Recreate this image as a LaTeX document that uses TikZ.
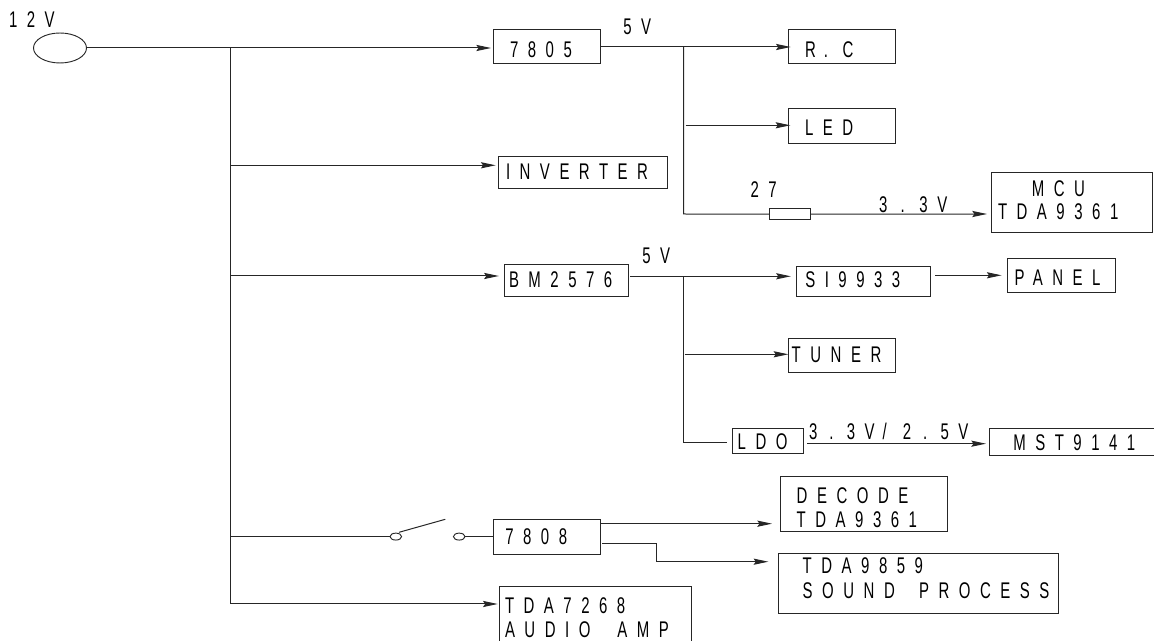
\documentclass[tikz,border=0pt]{standalone}
\usepackage{fontspec}
\setmainfont[FakeStretch=0.66,LetterSpace=42]{Liberation Sans}
\usetikzlibrary{arrows.meta,shapes.geometric}
\tikzset{
  wire/.style={line width=0.75pt,draw=black!85},
  arr/.style={wire,-{Stealth[length=11pt,width=4.6pt,inset=1.6pt]}},
  box/.style={draw=black!85,line width=0.75pt,rectangle,inner sep=0pt,outer sep=0pt},
  oval/.style={draw=black!85,line width=0.7pt,ellipse,inner sep=0pt,outer sep=0pt},
  lbl/.style={inner sep=0pt,outer sep=0pt,anchor=base west},
}
\newcommand\bx[6]{%
  \pgfmathsetmacro\cx{(#2+#4)/2}%
  \pgfmathsetmacro\cy{(#3+#5)/2}%
  \pgfmathsetlengthmacro\bw{(#4-#2)*0.75}%
  \pgfmathsetlengthmacro\bh{(#5-#3)*0.75}%
  \node[box,minimum width=\bw,minimum height=\bh] (#1) at (\cx,\cy) {#6};}
\newcommand\tline[3]{%
  \pgfmathsetlengthmacro\dx{(#1-\cx)*0.75}%
  \pgfmathsetlengthmacro\dy{(\cy-#2)*0.75}%
  \makebox[0pt][l]{\kern\dx\raisebox{\dy}[0pt][0pt]{#3}}}
\begin{document}
\begin{tikzpicture}[x=0.75pt,y=-0.75pt,font=\fontsize{17pt}{20pt}\selectfont]
\clip (0,0) rectangle (1154,641);
% source
\node[oval,minimum width=39.75pt,minimum height=22.5pt] (src) at (60,48) {};
\node[lbl] (l12) at (9,28) {12V};
% boxes
\bx{a7805}{493.3}{30}{600}{64}{\tline{510}{58}{7805}}
\bx{inv}{498.7}{156.3}{667.8}{188.3}{\tline{506}{180}{INVERTER}}
\bx{bm}{504.8}{264.7}{628}{297}{\tline{509}{288}{BM2576}}
\bx{rc}{788.3}{30}{895.8}{64}{\tline{805}{58}{R\kern6pt.\kern11pt C}}
\bx{led}{788.3}{108.7}{895.8}{143.3}{\tline{805}{135.7}{LED}}
\bx{res}{769}{208.3}{810.6}{220}{}
\bx{mcu}{991.5}{172.7}{1152}{232.3}{\tline{1031.8}{196.7}{MCU}\tline{998}{220}{TDA9361}}
\bx{si}{796.8}{266.7}{930}{296.3}{\tline{805.3}{287.3}{SI9933}}
\bx{panel}{1007.8}{258.7}{1115.5}{293}{\tline{1014.5}{286}{PANEL}}
\bx{tuner}{788.3}{338.3}{895.7}{372.3}{\tline{791.7}{362.7}{TUNER}}
\bx{ldo}{732.7}{428.7}{803.7}{453.7}{\tline{737.7}{450}{LDO}}
\bx{mst}{989.3}{428.7}{1157}{456}{\tline{1013.3}{451}{MST9141}}
\bx{decode}{780}{476.3}{947.3}{532}{\tline{796.7}{504}{DECODE}\tline{796.7}{528}{TDA9361}}
\bx{sound}{778.3}{553.7}{1058.7}{613.3}{\tline{802.7}{573.3}{TDA9859}\tline{802.7}{598}{SOUND\kern8pt\ PROCESS}}
\bx{a7808}{493.3}{520}{600.7}{554.3}{\tline{505.3}{544.7}{7808}}
\bx{amp}{499.3}{586.7}{691}{646}{\tline{505}{613.3}{TDA7268}\tline{505}{638}{AUDIO\kern10pt\ AMP}}
% labels
\node[lbl] (v1) at (623.3,35) {5V};
\node[lbl] (v2) at (642.4,263.3) {5V};
\node[lbl] (r27) at (750.5,198) {27};
\node[lbl] (v33) at (879,212.3) {3\kern10pt.\kern11pt 3V};
\node[lbl] (v25) at (809,439.3) {3\kern9pt.\kern10pt 3V\kern6pt/\kern12pt 2\kern9pt.\kern10pt 5V};
% switch contacts
\node[oval,minimum width=8.7pt,minimum height=5.2pt] (c1) at (395.8,536.6) {};
\node[oval,minimum width=8.7pt,minimum height=5.2pt] (c2) at (459.2,536.6) {};
\coordinate (b1) at (399,532.3);
\coordinate (b2) at (445.3,519.3);
% junctions
\coordinate (t0) at (230.8,48);
\coordinate (t1) at (230.8,165.3);
\coordinate (t2) at (230.8,276);
\coordinate (t3) at (230.8,536.6);
\coordinate (t4) at (230.8,604);
\coordinate (p1) at (683.6,47);
\coordinate (p1b) at (685.5,125.3);
\coordinate (p1c) at (683.6,214);
\coordinate (p2) at (683.6,276.3);
\coordinate (p2b) at (684.7,354.3);
\coordinate (p2c) at (683.6,442.7);
\coordinate (ldoin) at (726.7,442.7);
\coordinate (bmout) at (630,276.3);
\coordinate (siout) at (935,275.3);
\coordinate (ldoout) at (807,443.7);
\coordinate (s1) at (600.7,523.7);
\coordinate (s2) at (602.3,543.3);
\coordinate (s3) at (656.2,543.3);
\coordinate (s4) at (656.2,561.7);
% connectors
\draw[arr,shorten >=1.7pt] (src.east |- t0) -- (t0 -| a7805.west);
\draw[wire] (t0) -- (t4);
\draw[arr,shorten >=2.3pt] (t1) -- (t1 -| inv.west);
\draw[arr,shorten >=4.5pt] (t2) -- (t2 -| bm.west);
\draw[wire] (t3) -- (c1.west);
\draw[wire] (b1) -- (b2);
\draw[wire] (c2.east) -- (c2 -| a7808.west);
\draw[arr,shorten >=1.2pt] (t4) -- (t4 -| amp.west);
\draw[arr,shorten >=-1.8pt] (p1 -| a7805.east) -- (p1 -| rc.west);
\draw[wire] (p1) -- (p1c) -- (res.west);
\draw[arr,shorten >=-1.5pt] (p1b) -- (p1b -| led.west);
\draw[arr,shorten >=3.4pt] (res.east) -- (p1c -| mcu.west);
\draw[arr,shorten >=4.5pt] (bmout) -- (bmout -| si.west);
\draw[wire] (p2) -- (p2c) -- (ldoin);
\draw[arr,shorten >=0pt] (p2b) -- (p2b -| tuner.west);
\draw[arr,shorten >=4.7pt] (siout) -- (siout -| panel.west);
\draw[arr,shorten >=2.5pt] (ldoout) -- (ldoout -| mst.west);
\draw[arr,shorten >=6pt] (s1) -- (s1 -| decode.west);
\draw[wire] (s2) -- (s3) -- (s4);
\draw[arr,shorten >=7.5pt] (s4) -- (s4 -| sound.west);
\end{tikzpicture}
\end{document}
